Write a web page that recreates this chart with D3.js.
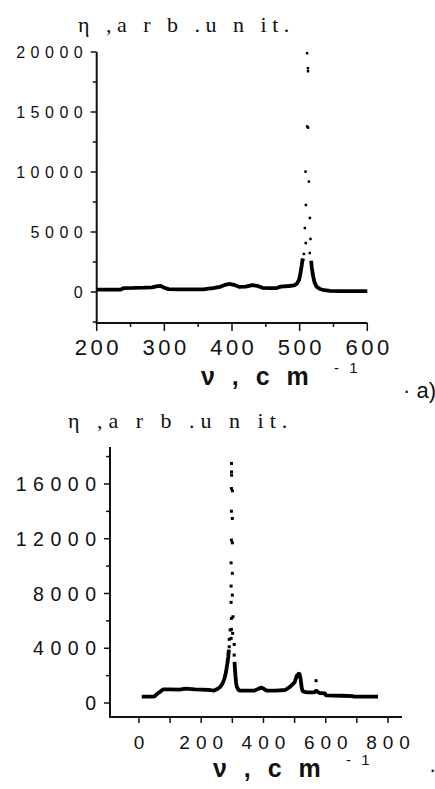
<!DOCTYPE html>
<html>
<head>
<meta charset="utf-8">
<script src="https://cdn.jsdelivr.net/npm/d3@7"></script>
<style>
  body { margin: 0; background: #fff; }
  svg { display: block; }
  .num { font-family: "Liberation Sans", Arial, sans-serif; fill: #111; }
  .ttl { font-family: "Liberation Serif", "Times New Roman", serif; fill: #111; }
</style>
</head>
<body>
<script>
// ---- panel a) ----  (null = gap where the peak is only isolated points)
var topNu  = [200, 210, 222, 235, 240, 255, 270, 282, 288, 294, 300, 306, 320, 340, 360, 372, 382, 390, 396, 403, 411, 420, 430, 437, 445, 455, 466, 472, 484, 492, 496, 499, 501, 503, 504.5, 511, 517, 518, 520, 522, 525, 530, 536, 545, 560, 580, 600];
var topEta = [190, 190, 200, 190, 330, 340, 360, 380, 470, 520, 360, 240, 220, 220, 230, 330, 420, 600, 680, 600, 420, 450, 580, 520, 350, 330, 330, 450, 500, 560, 700, 1000, 1500, 2200, 2800, null, 2600, 2000, 1300, 800, 450, 250, 150, 90, 80, 80, 80];
var topPeakNu  = [505.2, 506.2, 509, 507.7, 509.2, 508.7, 511, 512.5, 512.4, 512.2, 511, 513.6, 515, 515.1, 516, 517.5];
var topPeakEta = [2670, 3170, 4080, 5330, 7250, 10030, 13800, 13700, 18400, 18650, 19900, 9200, 3250, 6170, 4420, 2500];
var topYTicks = [0, 5000, 10000, 15000, 20000];
var topYMinor = [-2500, 2500, 7500, 12500, 17500];
var topXTicks = [200, 300, 400, 500, 600];
var topXMinor = [250, 350, 450, 550];

// ---- panel b) ----
var botNu  = [9, 20, 45, 51, 60, 70, 77, 100, 130, 150, 180, 200, 228, 240, 250, 260, 268, 275, 280, 284, 287, 289, 298, 307, 308, 310, 312, 314, 320, 325, 350, 370, 385, 394, 400, 410, 440, 470, 486, 500, 507, 512, 515, 519, 523, 526, 540, 560, 566, 569, 572, 580, 598, 600, 650, 688, 690, 768];
var botEta = [460, 460, 460, 500, 700, 850, 1000, 1000, 980, 1050, 1000, 980, 950, 900, 1000, 1150, 1400, 1800, 2300, 2900, 3400, 3900, null, 3000, 2600, 2000, 1500, 1200, 950, 900, 900, 900, 1050, 1130, 1050, 900, 900, 950, 1200, 1500, 2000, 2100, 2200, 1800, 1100, 850, 780, 780, 800, 950, 850, 730, 700, 560, 530, 500, 460, 460];
var botPeakNu  = [297.5, 297.5, 297.5, 297, 300, 297, 300, 297, 300, 296, 300, 296, 300, 296, 297, 302, 297, 301, 296, 293, 290, 306, 290, 287, 306, 285, 307, 569];
var botPeakEta = [17500, 16880, 16640, 15670, 15500, 14010, 13480, 11900, 11700, 10240, 9470, 8540, 7880, 7350, 6180, 6300, 5380, 5090, 4720, 5330, 4650, 4280, 4110, 3620, 3500, 3010, 2770, 1630];
var botYTicks = [0, 4000, 8000, 12000, 16000];
var botYMinor = [2000, 6000, 10000, 14000, 18000];
var botXTicks = [0, 200, 400, 600, 800];
var botXMinor = [100, 300, 500, 700];

var svg = d3.select("body").append("svg")
    .attr("width", 435)
    .attr("height", 789);

function panel(o) {
  var x = d3.scaleLinear().domain(o.xDom).range(o.xRange);
  var y = d3.scaleLinear().domain(o.yDom).range(o.yRange);
  var g = svg.append("g");

  // axes lines
  g.append("line")
      .attr("x1", o.xRange[0]).attr("x2", o.xRange[0])
      .attr("y1", o.yRange[0]).attr("y2", o.yRange[1])
      .attr("stroke", "#111").attr("stroke-width", 2);
  g.append("line")
      .attr("x1", o.xRange[0] - 1).attr("x2", o.xRange[1])
      .attr("y1", o.yRange[0]).attr("y2", o.yRange[0])
      .attr("stroke", "#111").attr("stroke-width", 2);

  // y ticks
  g.selectAll(".yt").data(o.yTicks).enter().append("line")
      .attr("x1", o.xRange[0] - 6).attr("x2", o.xRange[0])
      .attr("y1", function(d) { return y(d); }).attr("y2", function(d) { return y(d); })
      .attr("stroke", "#111").attr("stroke-width", 1.5);
  g.selectAll(".ym").data(o.yMinor).enter().append("line")
      .attr("x1", o.xRange[0] - 4).attr("x2", o.xRange[0])
      .attr("y1", function(d) { return y(d); }).attr("y2", function(d) { return y(d); })
      .attr("stroke", "#111").attr("stroke-width", 1.5);
  g.selectAll(".yl").data(o.yTicks).enter().append("text")
      .attr("class", "num")
      .attr("x", o.xRange[0] - 14 + o.yLs)
      .attr("y", function(d) { return y(d); })
      .attr("dy", "0.36em")
      .attr("text-anchor", "end")
      .style("font-size", o.yFs + "px")
      .style("letter-spacing", o.yLs + "px")
      .text(function(d) { return d; });

  // x ticks
  g.selectAll(".xt").data(o.xTicks).enter().append("line")
      .attr("x1", function(d) { return x(d); }).attr("x2", function(d) { return x(d); })
      .attr("y1", o.yRange[0]).attr("y2", o.yRange[0] + o.xMajLen)
      .attr("stroke", "#111").attr("stroke-width", 1.5);
  g.selectAll(".xm").data(o.xMinor).enter().append("line")
      .attr("x1", function(d) { return x(d); }).attr("x2", function(d) { return x(d); })
      .attr("y1", o.yRange[0]).attr("y2", o.yRange[0] + o.xMinLen)
      .attr("stroke", "#111").attr("stroke-width", 1.5);
  g.selectAll(".xl").data(o.xTicks).enter().append("text")
      .attr("class", "num")
      .attr("x", function(d) { return x(d) + o.xLs / 2; })
      .attr("y", o.yRange[0] + o.xLabDy)
      .attr("text-anchor", "middle")
      .style("font-size", o.xFs + "px")
      .style("letter-spacing", o.xLs + "px")
      .text(function(d) { return d; });

  // trace (gap where the peak is only single points)
  var line = d3.line()
      .defined(function(d) { return d[1] != null; })
      .x(function(d) { return x(d[0]); })
      .y(function(d) { return y(d[1]); });
  g.append("path")
      .datum(d3.zip(o.nu, o.eta))
      .attr("d", line)
      .attr("fill", "none")
      .attr("stroke", "#000")
      .attr("stroke-width", o.lw)
      .attr("stroke-linejoin", "bevel");

  // isolated points of the peak
  g.selectAll(".pk").data(d3.zip(o.pNu, o.pEta)).enter().append("rect")
      .attr("x", function(d) { return x(d[0]) - o.ps / 2; })
      .attr("y", function(d) { return y(d[1]) - o.ps / 2; })
      .attr("width", o.ps).attr("height", o.ps)
      .attr("fill", "#000");

  // titles
  g.append("text")
      .attr("class", "ttl")
      .attr("x", o.yTitle[0]).attr("y", o.yTitle[1])
      .style("font-size", o.yTitle[2] + "px")
      .style("letter-spacing", o.yTitle[3] + "px")
      .text("η ,a r b .u n it.");
  g.append("text")
      .attr("class", "num")
      .attr("x", o.xTitle[0]).attr("y", o.xTitle[1])
      .style("font-size", o.xTitle[2] + "px")
      .style("font-weight", "bold")
      .style("letter-spacing", "5px")
      .text("ν , c m");
  g.append("text")
      .attr("class", "num")
      .attr("x", o.sup[0]).attr("y", o.sup[1])
      .style("font-size", "15px")
      .style("letter-spacing", "3px")
      .text("- 1");
  g.append("text")
      .attr("class", "num")
      .attr("x", o.tail[0]).attr("y", o.tail[1])
      .style("font-size", "22px")
      .text(o.tail[2]);
}

panel({
  xDom: [200, 600], xRange: [96.7, 367.3],
  yDom: [-2583, 20000], yRange: [323, 52],
  nu: topNu, eta: topEta, pNu: topPeakNu, pEta: topPeakEta,
  yTicks: topYTicks, yMinor: topYMinor, xTicks: topXTicks, xMinor: topXMinor,
  yFs: 16, yLs: 5.5, xFs: 22, xLs: 3.5, xLabDy: 32, xMajLen: 8, xMinLen: 4,
  lw: 3.8, ps: 2.5,
  yTitle: [78, 32, 22, 5.5],
  xTitle: [201, 385, 25],
  sup: [334, 373],
  tail: [403, 398, "· a)"]
});

panel({
  xDom: [-93, 845], xRange: [110, 402],
  yDom: [-1022, 18700], yRange: [717, 447],
  nu: botNu, eta: botEta, pNu: botPeakNu, pEta: botPeakEta,
  yTicks: botYTicks, yMinor: botYMinor, xTicks: botXTicks, xMinor: botXMinor,
  yFs: 19.5, yLs: 6.5, xFs: 19, xLs: 6, xLabDy: 32, xMajLen: 6, xMinLen: 6,
  lw: 3.8, ps: 3,
  yTitle: [68, 428, 22, 6],
  xTitle: [213, 777, 25],
  sup: [346, 765],
  tail: [429, 777, "·"]
});
</script>
</body>
</html>
